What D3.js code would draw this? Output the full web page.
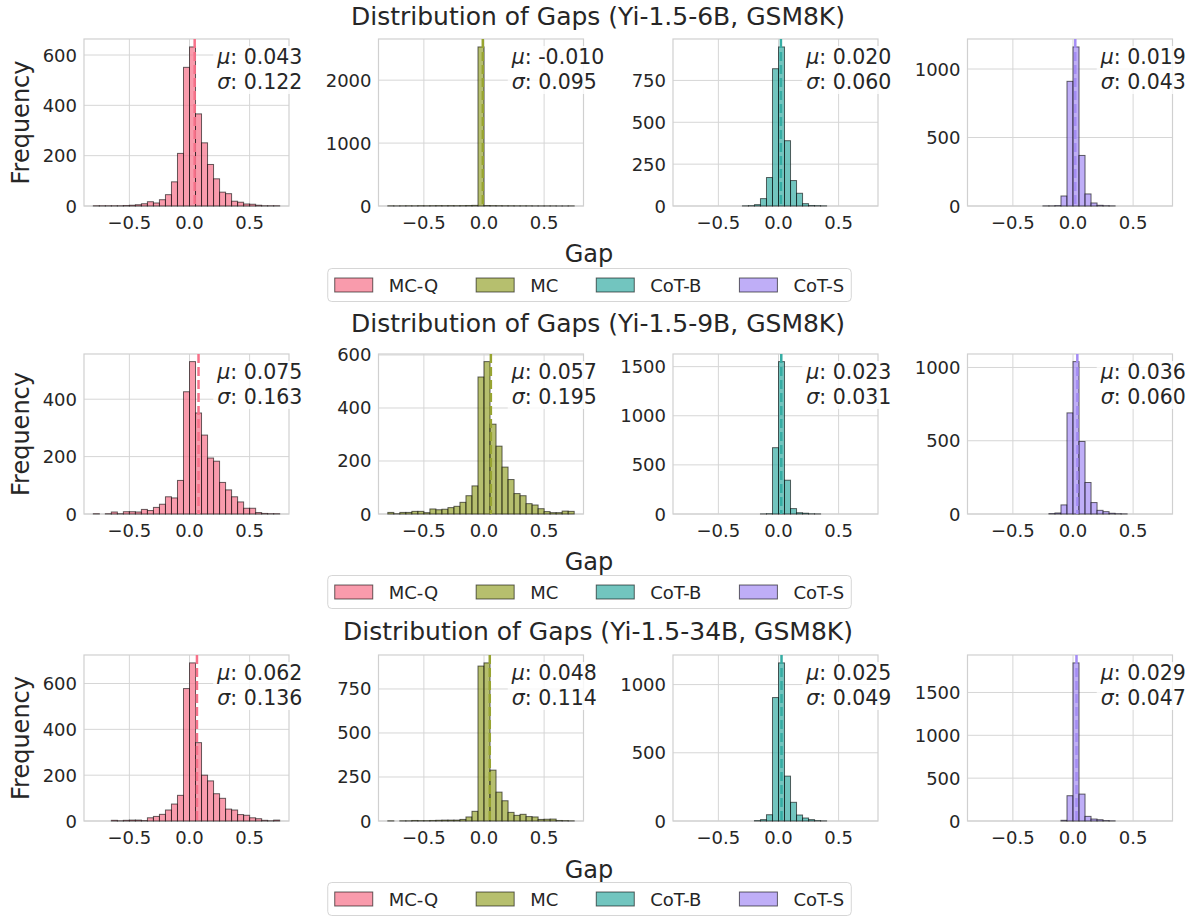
<!DOCTYPE html>
<html><head><meta charset="utf-8">
<script src="https://cdn.jsdelivr.net/npm/d3@7"></script>
<style>
body{margin:0;background:#fff;}
svg{display:block;font-family:"DejaVu Sans",sans-serif;}
</style>
</head><body><svg id="c" width="1197" height="917"></svg>
<script>
// ---------------- data ----------------
const methods = ["MC-Q", "MC", "CoT-B", "CoT-S"];
const models = ["Yi-1.5-6B", "Yi-1.5-9B", "Yi-1.5-34B"];
const dataset = "GSM8K";
const binStart = -0.8, binWidth = 0.05;          // 31 bins: -0.8 .. 0.75
const xTicks = [-0.5, 0.0, 0.5];

// histogram counts per bin (31 bins)
const counts6B_MCQ  = [1,1,1,1,1,2,3,5,9,17,12,25,45,96,209,551,632,366,251,165,108,55,49,19,15,8,7,3,1,1,1];
const counts6B_MC   = [3,2,3,4,3,5,4,5,6,5,6,5,6,8,10,2528,8,6,5,4,4,3,3,3,2,2,2,2,1,1,2];
const counts6B_CoTB = [0,0,0,0,0,0,0,0,0,0,1,2,8,44,170,820,950,390,152,76,14,3,2,1,0,0,0,0,0,0,0];
const counts6B_CoTS = [0,0,0,0,0,0,0,0,0,0,0,1,1,3,73,910,1161,369,88,22,5,2,1,0,0,0,0,0,0,0,0];

const counts9B_MCQ  = [1,0,1,7,1,8,8,7,16,12,23,34,60,56,117,426,531,352,275,195,184,110,84,60,42,20,20,5,2,1,1];
const counts9B_MC   = [6,1,6,6,10,10,5,19,16,18,24,29,44,69,106,517,575,339,256,177,130,77,69,39,34,20,9,5,5,11,10];
const counts9B_CoTB = [0,0,0,0,0,0,0,0,0,0,0,0,0,1,3,675,1551,344,55,13,8,2,1,0,0,0,0,0,0,0,0];
const counts9B_CoTS = [0,0,0,0,0,0,0,0,0,0,0,0,3,7,62,690,1040,495,215,78,25,16,5,2,1,0,0,0,0,0,0];

const counts34B_MCQ  = [0,0,0,3,1,3,4,4,2,14,20,29,48,74,112,578,690,342,200,175,119,99,52,48,28,25,14,10,3,1,4];
const counts34B_MC   = [1,0,1,1,3,2,2,3,4,5,5,5,9,23,55,880,898,289,164,115,49,32,38,25,23,9,10,11,3,2,1];
const counts34B_CoTB = [0,0,0,0,0,0,0,0,0,0,0,0,3,10,46,905,1159,329,137,44,22,10,3,1,0,0,0,0,0,0,0];
const counts34B_CoTS = [0,0,0,0,0,0,0,0,0,0,0,0,0,0,8,295,1845,314,54,23,15,5,2,0,0,0,0,0,0,0,0];

const mu6B  = [0.043, -0.010, 0.020, 0.019];
const sd6B  = [0.122, 0.095, 0.060, 0.043];
const mu9B  = [0.075, 0.057, 0.023, 0.036];
const sd9B  = [0.163, 0.195, 0.031, 0.060];
const mu34B = [0.062, 0.048, 0.025, 0.029];
const sd34B = [0.136, 0.114, 0.049, 0.047];

const yTicks6B  = [[0,200,400,600],[0,1000,2000],[0,250,500,750],[0,500,1000]];
const yTicks9B  = [[0,200,400],[0,200,400,600],[0,500,1000,1500],[0,500,1000]];
const yTicks34B = [[0,200,400,600],[0,250,500,750],[0,500,1000],[0,500,1000,1500]];

// ---------------- assemble ----------------
const rowsData = [
  {model: models[0], counts: [counts6B_MCQ, counts6B_MC, counts6B_CoTB, counts6B_CoTS], mu: mu6B, sd: sd6B, yt: yTicks6B},
  {model: models[1], counts: [counts9B_MCQ, counts9B_MC, counts9B_CoTB, counts9B_CoTS], mu: mu9B, sd: sd9B, yt: yTicks9B},
  {model: models[2], counts: [counts34B_MCQ, counts34B_MC, counts34B_CoTB, counts34B_CoTS], mu: mu34B, sd: sd34B, yt: yTicks34B}
];

// ---------------- style / layout ----------------
const colors = ["#f77189", "#97a431", "#36ada4", "#a48cf4"];
const textColor = "#262626";
const gridColor = "#d6d6d6";
const spineColor = "#d0d0d0";
const colLefts = [84, 378.5, 673, 967.5];
const axW = 205;
const rowLayout = [
  {top: 39,  bottom: 206, title: 16,  gap: 254, legend: 285},
  {top: 354, bottom: 514, title: 323, gap: 562, legend: 592},
  {top: 655, bottom: 821, title: 631, gap: 870, legend: 899}
];
const xDomain = [-0.8775, 0.8275];
const fsTick = 18, fsLabel = 24, fsTitle = 25, fsStat = 20.5, fsLegend = 18;

const svg = d3.select("#c");
const fmt = v => (v < 0 ? "-" : "") + Math.abs(v).toFixed(3);
const tickFmt = v => (v < 0 ? "\u2212" : "") + Math.abs(v).toFixed(1);

rowsData.forEach((row, r) => {
  const L = rowLayout[r];
  // title
  svg.append("text").attr("x", 598).attr("y", L.title).attr("text-anchor", "middle")
    .attr("dominant-baseline", "central").attr("font-size", fsTitle).attr("fill", textColor)
    .text(`Distribution of Gaps (${row.model}, ${dataset})`);

  row.counts.forEach((cnt, m) => {
    const left = colLefts[m];
    const x = d3.scaleLinear().domain(xDomain).range([left, left + axW]);
    const yMax = d3.max(cnt) * 1.05;
    const y = d3.scaleLinear().domain([0, yMax]).range([L.bottom, L.top]);
    const g = svg.append("g");

    // grid
    g.selectAll(".gx").data(xTicks).join("line")
      .attr("x1", d => x(d)).attr("x2", d => x(d)).attr("y1", L.top).attr("y2", L.bottom)
      .attr("stroke", gridColor).attr("stroke-width", 1);
    g.selectAll(".gy").data(row.yt[m]).join("line")
      .attr("x1", left).attr("x2", left + axW).attr("y1", d => y(d)).attr("y2", d => y(d))
      .attr("stroke", gridColor).attr("stroke-width", 1);

    // spines
    g.append("rect").attr("x", left).attr("y", L.top).attr("width", axW).attr("height", L.bottom - L.top)
      .attr("fill", "none").attr("stroke", spineColor).attr("stroke-width", 1.2);

    // bars
    const bins = cnt.map((c, k) => ({x0: binStart + k * binWidth, x1: binStart + (k + 1) * binWidth, c}));
    g.selectAll(".bar").data(bins).join("rect")
      .attr("x", d => x(d.x0)).attr("width", d => x(d.x1) - x(d.x0))
      .attr("y", d => y(d.c)).attr("height", d => y(0) - y(d.c))
      .attr("fill", colors[m]).attr("fill-opacity", 0.7)
      .attr("stroke", "#000").attr("stroke-opacity", 0.6).attr("stroke-width", 1);

    // mean line
    g.append("line").attr("x1", x(row.mu[m])).attr("x2", x(row.mu[m]))
      .attr("y1", L.top).attr("y2", L.bottom)
      .attr("stroke", colors[m]).attr("stroke-width", 2.5).attr("stroke-dasharray", "9,4");

    // x tick labels
    g.selectAll(".xt").data(xTicks).join("text")
      .attr("x", d => x(d)).attr("y", L.bottom + 16).attr("text-anchor", "middle")
      .attr("dominant-baseline", "central").attr("font-size", fsTick).attr("fill", textColor)
      .text(tickFmt);
    // y tick labels
    g.selectAll(".yt").data(row.yt[m]).join("text")
      .attr("x", left - 7).attr("y", d => y(d)).attr("text-anchor", "end")
      .attr("dominant-baseline", "central").attr("font-size", fsTick).attr("fill", textColor)
      .text(d => d);

    // stats box
    const tx = left + 0.65 * axW;
    const box = g.append("rect").attr("fill", "#fff").attr("fill-opacity", 0.8);
    const t1 = g.append("text").attr("x", tx).attr("y", L.top + 18).attr("dominant-baseline", "central")
      .attr("font-size", fsStat).attr("fill", textColor);
    t1.append("tspan").attr("font-style", "italic").text("\u03bc");
    t1.append("tspan").text(": " + fmt(row.mu[m]));
    const t2 = g.append("text").attr("x", tx).attr("y", L.top + 43).attr("dominant-baseline", "central")
      .attr("font-size", fsStat).attr("fill", textColor);
    t2.append("tspan").attr("font-style", "italic").text("\u03c3");
    t2.append("tspan").text(": " + fmt(row.sd[m]));
    const w = Math.max(t1.node().getComputedTextLength(), t2.node().getComputedTextLength());
    box.attr("x", tx - 4).attr("y", L.top + 7).attr("width", w + 8).attr("height", 48);

    if (m === 0) {
      svg.append("text").attr("transform", `translate(21,${(L.top + L.bottom) / 2}) rotate(-90)`)
        .attr("text-anchor", "middle").attr("dominant-baseline", "central")
        .attr("font-size", fsLabel).attr("fill", textColor).text("Frequency");
    }
  });

  // Gap label
  svg.append("text").attr("x", 589).attr("y", L.gap).attr("text-anchor", "middle")
    .attr("dominant-baseline", "central").attr("font-size", fsLabel).attr("fill", textColor).text("Gap");

  // legend
  const lg = svg.append("g");
  const lbox = lg.append("rect").attr("fill", "#fff").attr("fill-opacity", 0.8)
    .attr("stroke", "#d6d6d6").attr("rx", 4);
  const hw = 38, hh = 14, tg = 16, cs = 38, pad = 7;
  let cx = 0;
  methods.forEach((name, m) => {
    const it = lg.append("g");
    it.append("rect").attr("x", cx).attr("y", L.legend - hh / 2).attr("width", hw).attr("height", hh)
      .attr("fill", colors[m]).attr("fill-opacity", 0.7).attr("stroke", "#000").attr("stroke-opacity", 0.6);
    const t = it.append("text").attr("x", cx + hw + tg).attr("y", L.legend).attr("dominant-baseline", "central")
      .attr("font-size", fsLegend).attr("fill", textColor).text(name);
    cx += hw + tg + t.node().getComputedTextLength() + (m < methods.length - 1 ? cs : 0);
  });
  const totalW = cx + 2 * pad;
  const lx = 589.5 - totalW / 2;
  lg.selectAll("g").attr("transform", `translate(${lx + pad},0)`);
  lbox.attr("x", lx).attr("y", L.legend - 16.5).attr("width", totalW).attr("height", 33);
});
</script>
</body></html>
